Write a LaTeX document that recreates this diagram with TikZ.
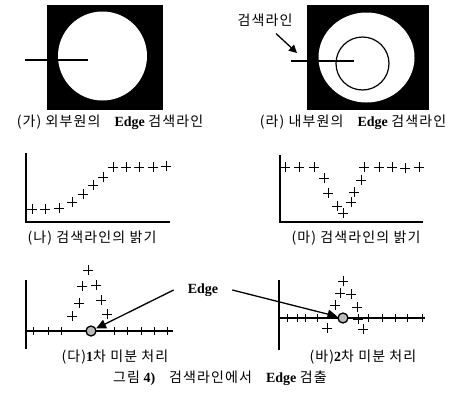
\documentclass[tikz,border=0pt]{standalone}
\usepackage{fontspec}
\setmainfont{Liberation Serif}
\newfontfamily\kr[LetterSpace=8]{Noto Sans CJK KR}
\usepackage{tikz}
\usetikzlibrary{arrows.meta}

\begin{document}
\begin{tikzpicture}[
  x=1pt, y=-1pt,
  caption/.style={inner sep=1pt, font=\fontsize{14}{16}\selectfont},
  edgelbl/.style={inner xsep=14pt, inner ysep=2pt, font=\fontsize{14}{16}\selectfont\bfseries},
  axis/.style={line width=1.1pt},
  dot/.style={circle, draw, line width=1.3pt, fill=gray!55, minimum size=10pt, inner sep=0pt},
  edgearrow/.style={-{Triangle[length=10pt,width=9pt]}, line width=1.3pt},
  plusmark/.pic={\draw[line width=1pt] (-5,0) -- (5,0) (0,-5) -- (0,5);}
]
\useasboundingbox (0,0) rectangle (459,397);

% (ga) outer circle
\fill[black] (47,5) rectangle (163,110);
\fill[white] (102.5,56) circle (44.5);
\draw[line width=1.2pt] (25,60) -- (88,60);
\node[caption] (capA) at (110,122) {{\kr (가) 외부원의}\quad{\bfseries Edge} {\kr 검색라인}};

% (ra) inner circle
\fill[black] (307,5) rectangle (429,110);
\fill[white] (366.5,57.5) ellipse (48 and 45);
\draw[line width=1.2pt] (362.5,63.5) circle (26.5);
\draw[line width=1.2pt] (291,61) -- (354,61);
\node[caption] (lineLbl) at (265,20) {\kr 검색라인};
\coordinate (lineTip) at (297,53);
\draw[-{Triangle[length=8pt,width=8pt]}, line width=1.3pt] ([xshift=11pt,yshift=-6pt]lineLbl.south) -- (lineTip);
\node[caption] (capD) at (353,122) {{\kr (라) 내부원의}\quad{\bfseries Edge} {\kr 검색라인}};

% (na) brightness, outer
\draw[axis] (26,153) -- (26,222) -- (170,222);
\foreach \px/\py in {32/209, 45/209, 59/208, 72/202, 83/194, 93/185, 103/177,
                     113/167, 126/167, 139/167, 153/167, 166/166}
  \pic at (\px,\py) {plusmark};
\node[caption] (capB) at (92,238) {\kr (나) 검색라인의 밝기};

% (ma) brightness, inner
\draw[axis] (280,155) -- (280,222) -- (423,222);
\foreach \px/\py in {285/167, 299/167, 314/167, 324/178, 328/193, 337/206, 343/213,
                     351/202, 354/192, 361/180, 364/167, 379/167, 392/167, 405/168, 419/167}
  \pic at (\px,\py) {plusmark};
\node[caption] (capE) at (356,238) {\kr (마) 검색라인의 밝기};

% (da) first derivative
\draw[axis] (26,280) -- (26,349);
\draw[axis] (26,331) -- (173,331);
\foreach \tx in {33, 48, 61, 114, 127, 141, 154, 167}
  \draw[line width=1pt] (\tx,327) -- (\tx,335);
\foreach \px/\py in {88/270, 82/286, 96/285, 79/303, 101/300, 72/316, 107/314}
  \pic at (\px,\py) {plusmark};
\node[dot] (dot1) at (91,331) {};
\node[caption] (capC) at (115,357) {{\kr (다)}{\bfseries 1}{\kr 차 미분 처리}};

% (ba) second derivative
\draw[axis] (279,280) -- (279,350);
\draw[axis] (279,318) -- (425,318);
\foreach \tx in {287, 297, 305, 317, 368, 382, 395, 407, 422}
  \draw[line width=1pt] (\tx,314) -- (\tx,322);
\foreach \px/\py in {343/281, 340/293, 351/294, 335/305, 357/307, 358/319, 327/328, 363/329}
  \pic at (\px,\py) {plusmark};
\node[dot] (dot2) at (343,318) {};
\node[caption] (capF) at (363,357) {{\kr (바)}{\bfseries 2}{\kr 차 미분 처리}};

% edge label and arrows
\node[edgelbl] (edge) at (203,290) {Edge};
\draw[edgearrow] (edge.west) -- (dot1);
\draw[edgearrow] (edge.east) -- (dot2);

\node[caption] (fig) at (220,378) {{\kr 그림} {\bfseries 4)}\quad{\kr 검색라인에서}\quad{\bfseries Edge} {\kr 검출}};
\end{tikzpicture}
\end{document}
